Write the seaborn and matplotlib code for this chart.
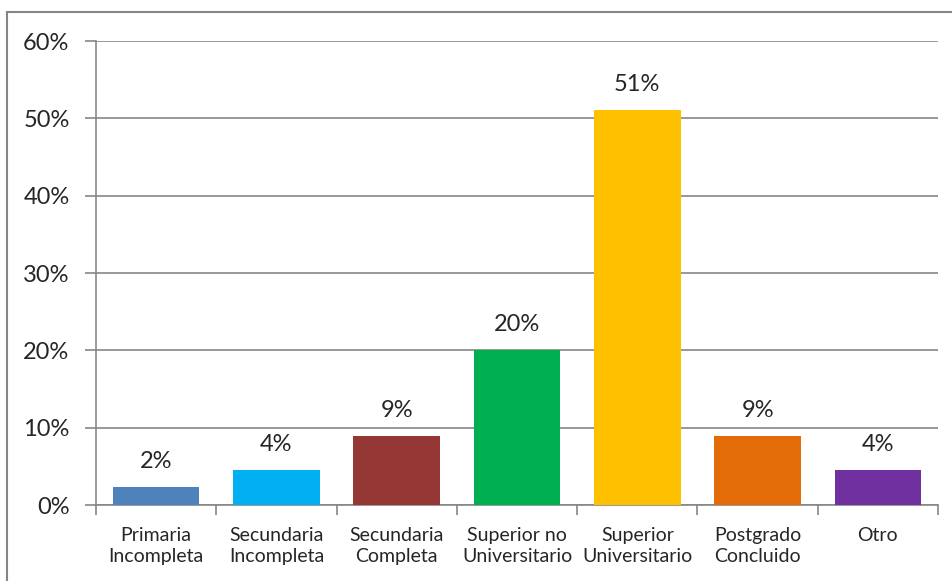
import matplotlib.pyplot as plt
import seaborn as sns
import pandas as pd
import numpy as np
from matplotlib.patches import Rectangle
from matplotlib.ticker import FixedLocator

categorias = ['Primaria\nIncompleta', 'Secundaria\nIncompleta', 'Secundaria\nCompleta',
              'Superior no\nUniversitario', 'Superior\nUniversitario', 'Postgrado\nConcluido', 'Otro']
valores = [2.3, 4.5, 8.9, 20.0, 51.1, 8.9, 4.5]
etiquetas = ['2%', '4%', '9%', '20%', '51%', '9%', '4%']
colores = ['#4F81BD', '#00B0F0', '#953735', '#00B050', '#FFC000', '#E36C09', '#7030A0']

sns.set_style('white')
plt.rcParams['font.family'] = ['Lato', 'DejaVu Sans']

df = pd.DataFrame({'cat': categorias, 'val': valores})

fig = plt.figure(figsize=(9.52, 5.81), dpi=100)
ax = fig.add_axes([96/952, 1 - 505/581, (938-96)/952, (505-41)/581])

sns.barplot(data=df, x='cat', y='val', hue='cat', palette=colores, legend=False,
            width=0.72, saturation=1, linewidth=0, edgecolor='none', ax=ax, zorder=3)

ax.set_ylim(0, 60)
ax.set_xlim(-0.5, len(categorias) - 0.5)
ax.set_yticks(np.arange(0, 61, 10))
ax.set_yticklabels([f'{v}%' for v in range(0, 61, 10)], fontsize=17)
ax.yaxis.grid(True, color='#868686', linewidth=1.2, zorder=0)
ax.set_axisbelow(True)
ax.set_xlabel('')
ax.set_ylabel('')
ax.tick_params(axis='x', labelsize=14, length=0, pad=16)
for lab in ax.get_xticklabels():
    lab.set_linespacing(1.3)
ax.tick_params(axis='y', length=8, color='#868686', width=1.2, pad=11, left=True)
ax.xaxis.set_minor_locator(FixedLocator(np.arange(-0.5, len(categorias), 1)))
ax.tick_params(axis='x', which='minor', length=7, color='#868686', width=1.2, bottom=True)

for s in ['top', 'right']:
    ax.spines[s].set_visible(False)
for s in ['left', 'bottom']:
    ax.spines[s].set_color('#868686')
    ax.spines[s].set_linewidth(1.2)

for i, (v, t) in enumerate(zip(valores, etiquetas)):
    ax.annotate(t, (i, v), xytext=(0, 11), textcoords='offset points', ha='center', va='bottom',
                fontsize=17, zorder=5,
                bbox=dict(boxstyle='square,pad=0.15', fc='white', ec='none'))

fig.patches.append(Rectangle((7/952, -0.1), 1.2, 1 - 12/581 + 0.1, transform=fig.transFigure,
                             fill=False, ec='#868686', lw=1.5, zorder=0))

fig.savefig('out.png', dpi=100)
